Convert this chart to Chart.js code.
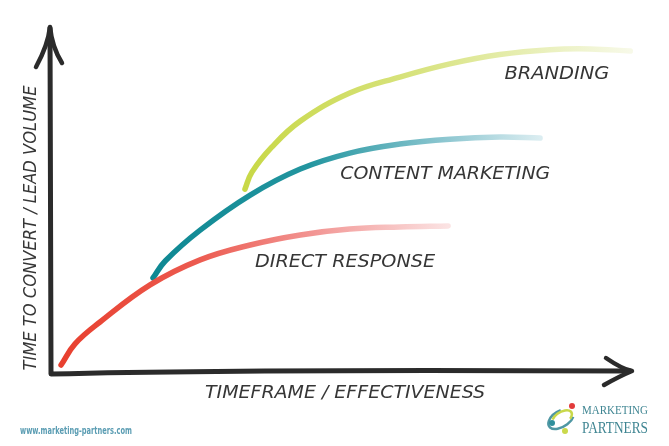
<!DOCTYPE html>
<html>
<head>
<meta charset="utf-8">
<script src="https://cdn.jsdelivr.net/npm/chart.js@4.4.1/dist/chart.umd.min.js"></script>
<style>
  html, body { margin: 0; padding: 0; background: #fff; }
  #wrap { width: 669px; height: 446px; position: relative; }
</style>
</head>
<body>
<div id="wrap"><canvas id="sketch"></canvas></div>
<script>
// series (x = timeframe, y = time to convert / lead volume, 0-100)
const directX  = [1.9, 4.3, 8.6, 17.2, 25.8, 34.4, 43, 51.5, 60.1, 68.4];
const directY  = [2, 8.1, 14.4, 25.1, 32.3, 36.6, 39.5, 41.2, 41.8, 42.1];
const contentX = [17.7, 19.8, 25.8, 34.4, 43, 51.5, 60.1, 68.7, 77.3, 84.2];
const contentY = [27.1, 32, 40.9, 51, 58.5, 63.1, 65.7, 67.1, 67.7, 67.4];
const brandX   = [33.5, 34.7, 38.1, 43, 51.5, 60.1, 68.7, 77.3, 85.9, 92.8, 99.7];
const brandY   = [52.7, 57.6, 64.8, 72.3, 80.4, 85, 88.8, 91.5, 92.9, 93.1, 92.5];

const seriesNames = ['DIRECT RESPONSE', 'CONTENT MARKETING', 'BRANDING'];
const xTitle = 'TIMEFRAME / EFFECTIVENESS';
const yTitle = 'TIME TO CONVERT / LEAD VOLUME';

const HAND = 'italic 17px "Liberation Sans Narrow", "DejaVu Sans Condensed", "Liberation Sans", sans-serif';

function pts(xs, ys) { return xs.map((x, i) => ({ x: x, y: ys[i] })); }

// fading stroke, strong at the start, washed out at the end
function fade(xs, stops) {
    return (ctx) => {
        const c = ctx.chart;
        if (!c.chartArea) return stops[0][1];
        const sx = c.scales.x;
        const g = c.ctx.createLinearGradient(sx.getPixelForValue(xs[0]), 0, sx.getPixelForValue(xs[xs.length - 1]), 0);
        stops.forEach(s => g.addColorStop(s[0], s[1]));
        return g;
    };
}

function line(label, xs, ys, stops) {
    return {
        label: label,
        data: pts(xs, ys),
        showLine: true,
        borderColor: fade(xs, stops),
        borderWidth: 5.5,
        borderCapStyle: 'round',
        tension: 0.4,
        pointRadius: 0,
        clip: false
    };
}

// text fitted to a given width, like the marker lettering
function fitText(ctx, txt, cx, cy, w, font, color, rot) {
    ctx.save();
    ctx.font = font;
    ctx.fillStyle = color || '#363636';
    ctx.textAlign = 'center';
    ctx.textBaseline = 'middle';
    ctx.translate(cx, cy);
    if (rot) ctx.rotate(rot);
    const m = ctx.measureText(txt).width;
    ctx.scale(w / m, 1);
    ctx.fillText(txt, 0, 0);
    ctx.restore();
}

const sketchPlugin = {
    id: 'sketch',
    beforeDatasetsDraw(chart) {
        const { ctx, chartArea: a } = chart;
        ctx.save();
        ctx.strokeStyle = '#2b2b2b';
        ctx.lineWidth = 5;
        ctx.lineCap = 'round';
        ctx.lineJoin = 'round';
        // axes
        ctx.beginPath();
        ctx.moveTo(a.left, a.top + 3);
        ctx.lineTo(a.left + 1, a.bottom + 2);
        ctx.quadraticCurveTo(a.left + 200, a.bottom - 3, a.right - 2, a.bottom - 1);
        ctx.stroke();
        // arrow heads
        ctx.lineWidth = 4.5;
        ctx.beginPath();
        ctx.moveTo(a.left - 14, a.top + 42);
        ctx.quadraticCurveTo(a.left - 2, a.top + 20, a.left, a.top + 2);
        ctx.quadraticCurveTo(a.left + 2, a.top + 22, a.left + 12, a.top + 38);
        ctx.stroke();
        ctx.beginPath();
        ctx.moveTo(a.right - 26, a.bottom - 14);
        ctx.quadraticCurveTo(a.right - 10, a.bottom - 3, a.right, a.bottom - 1);
        ctx.quadraticCurveTo(a.right - 12, a.bottom + 4, a.right - 28, a.bottom + 13);
        ctx.stroke();
        ctx.restore();
    },
    afterDatasetsDraw(chart) {
        const { ctx } = chart;
        const sx = chart.scales.x, sy = chart.scales.y;
        // series labels: centre in data units, width in px
        const spots = [[50.7, 31.4, 180], [67.9, 56.8, 210], [87.1, 85.6, 105]];
        seriesNames.forEach((n, i) => {
            const s = spots[i];
            fitText(ctx, n, sx.getPixelForValue(s[0]), sy.getPixelForValue(s[1]), s[2], HAND);
        });
        // axis titles
        fitText(ctx, xTitle, 345, sy.bottom + 22, 280, HAND);
        fitText(ctx, yTitle, sx.left - 18, 228, 285, HAND, null, -Math.PI / 2);

        // footer
        fitText(ctx, 'www.marketing-partners.com', 76, 431, 112,
            'bold 10px "Liberation Sans Narrow", "DejaVu Sans Condensed", sans-serif', '#5b9db3');

        // logo mark
        ctx.save();
        ctx.lineWidth = 2.5;
        ctx.strokeStyle = '#4f97a3';
        ctx.beginPath();
        ctx.ellipse(561, 419, 14, 8, -0.55, 0.6, Math.PI * 1.6);
        ctx.stroke();
        ctx.strokeStyle = '#c9d84a';
        ctx.beginPath();
        ctx.ellipse(562, 418, 11, 6, -0.55, Math.PI * 1.2, Math.PI * 2.3);
        ctx.stroke();
        [['#e23b3b', 572, 406], ['#2f8f9c', 552, 423], ['#cbd94c', 565, 431]].forEach(d => {
            ctx.fillStyle = d[0];
            ctx.beginPath();
            ctx.arc(d[1], d[2], 3, 0, Math.PI * 2);
            ctx.fill();
        });
        ctx.restore();
        fitText(ctx, 'MARKETING', 615, 411, 66, '13px "Liberation Serif", serif', '#3f8592');
        fitText(ctx, 'PARTNERS', 615, 429, 66, '16px "Liberation Serif", serif', '#3f8592');
    }
};

new Chart(document.getElementById('sketch'), {
    type: 'scatter',
    data: {
        datasets: [
            line(seriesNames[0], directX, directY, [[0, '#e8402f'], [0.35, '#ec5a4f'], [0.65, '#f29593'], [1, '#fbe3e3']]),
            line(seriesNames[1], contentX, contentY, [[0, '#0e8893'], [0.4, '#22959f'], [0.75, '#8cc6d0'], [1, '#dbedf1']]),
            line(seriesNames[2], brandX, brandY, [[0, '#c8d847'], [0.45, '#d8e37f'], [0.8, '#ebf1c1'], [1, '#f7f9e8']])
        ]
    },
    options: {
        responsive: true,
        maintainAspectRatio: false,
        animation: false,
        layout: { padding: { left: 50, top: 25, right: 37, bottom: 74 } },
        scales: {
            x: { type: 'linear', min: 0, max: 100, display: false },
            y: { type: 'linear', min: 0, max: 100, display: false }
        },
        plugins: { legend: { display: false }, tooltip: { enabled: false } }
    },
    plugins: [sketchPlugin]
});
</script>
</body>
</html>
